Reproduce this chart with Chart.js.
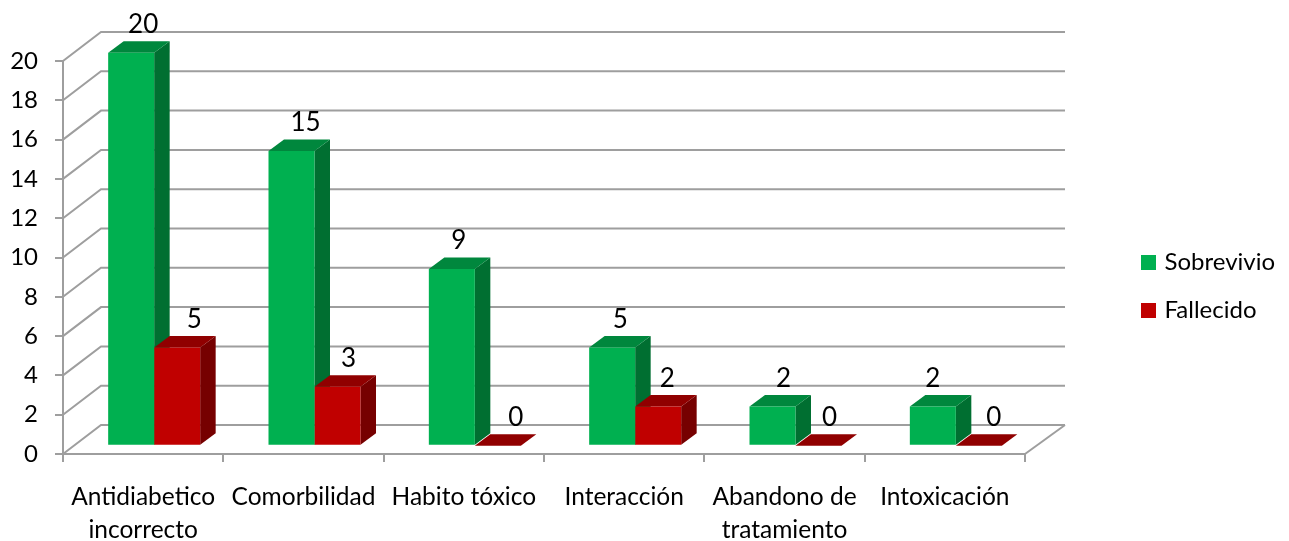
<!DOCTYPE html>
<html>
<head>
<meta charset="utf-8">
<title>Chart</title>
<script src="https://cdn.jsdelivr.net/npm/chart.js@4"></script>
<style>
  html, body { margin: 0; padding: 0; background: #fff; }
  canvas { display: block; }
</style>
</head>
<body>
<canvas id="grafico" width="1289" height="541"></canvas>
<script>
const categorias = [
  ["Antidiabetico", "incorrecto"],
  "Comorbilidad",
  "Habito tóxico",
  "Interacción",
  ["Abandono de", "tratamiento"],
  "Intoxicación"
];
const sobrevivio = [20, 15, 9, 5, 2, 2];
const fallecido = [5, 3, 0, 2, 0, 0];

// Label shifts in px, the original labels were not centred on their bars
const desplazaSobrevivio = [12, 14, 7, 8, 11, 0];
const desplazaFallecido = [17, 11, 18, 9, 11, 15];

const GRIS = "#9e9e9e";
const FUENTE = "Lato";
// Fake 3D: depth of the walls, depth of the bars and how far bars sit from the front edge
const PARED = { x: 38, y: -29 };
const BARRA = { x: 15.5, y: -11.5 };
const SUELO = { x: 11, y: -8.2 };

const caras = [
  { arriba: "#00873d", lado: "#006f31", nudge: desplazaSobrevivio },
  { arriba: "#900000", lado: "#760000", nudge: desplazaFallecido }
];

function poligono(ctx, puntos, color) {
  ctx.fillStyle = color;
  ctx.beginPath();
  puntos.forEach((p, i) => i ? ctx.lineTo(p[0], p[1]) : ctx.moveTo(p[0], p[1]));
  ctx.closePath();
  ctx.fill();
}

const plugin3d = {
  id: "plugin3d",
  afterUpdate(chart) {
    // legend sits in the free space right of the plot
    const legend = chart.legend;
    legend.left = 1120.5;
    legend.right = 1289;
    legend.top = 226.5;
    legend.bottom = 541;
  },
  beforeDatasetsDraw(chart) {
    const { ctx, chartArea, scales } = chart;
    ctx.save();
    ctx.strokeStyle = GRIS;
    ctx.lineWidth = 2;
    const derecha = chartArea.right + PARED.x + 2;
    scales.y.ticks.forEach((t) => {
      const y = scales.y.getPixelForValue(t.value);
      ctx.beginPath();
      ctx.moveTo(chartArea.left, y);
      ctx.lineTo(chartArea.left + PARED.x, y + PARED.y);
      ctx.lineTo(derecha, y + PARED.y);
      ctx.stroke();
    });
    // right edge of the floor
    ctx.beginPath();
    ctx.moveTo(chartArea.right, chartArea.bottom);
    ctx.lineTo(derecha, chartArea.bottom + PARED.y);
    ctx.stroke();
    ctx.restore();

    // sides and tops, green first so the red ones cover it
    ctx.save();
    ctx.translate(SUELO.x, SUELO.y);
    caras.forEach((cara, i) => {
      chart.getDatasetMeta(i).data.forEach((barra) => {
        const l = barra.x - barra.width / 2;
        const r = barra.x + barra.width / 2;
        poligono(ctx, [[r, barra.y], [r + BARRA.x, barra.y + BARRA.y], [r + BARRA.x, barra.base + BARRA.y], [r, barra.base]], cara.lado);
        poligono(ctx, [[l, barra.y], [r, barra.y], [r + BARRA.x, barra.y + BARRA.y], [l + BARRA.x, barra.y + BARRA.y]], cara.arriba);
      });
    });
    ctx.restore();
  },
  beforeDatasetDraw(chart) {
    chart.ctx.save();
    chart.ctx.translate(SUELO.x, SUELO.y);
  },
  afterDatasetDraw(chart) {
    chart.ctx.restore();
  },
  afterDatasetsDraw(chart) {
    const { ctx } = chart;
    ctx.save();
    ctx.font = "26px " + FUENTE;
    ctx.fillStyle = "#000";
    ctx.textAlign = "center";
    ctx.textBaseline = "alphabetic";
    chart.data.datasets.forEach((ds, i) => {
      chart.getDatasetMeta(i).data.forEach((barra, j) => {
        ctx.fillText(ds.data[j], barra.x + SUELO.x + caras[i].nudge[j], barra.y + SUELO.y - 20);
      });
    });
    ctx.restore();
  }
};

new Chart(document.getElementById("grafico").getContext("2d"), {
  type: "bar",
  data: {
    labels: categorias,
    datasets: [
      { label: "Sobrevivio", data: sobrevivio, backgroundColor: "#00b050", clip: false },
      { label: "Fallecido", data: fallecido, backgroundColor: "#c00000", clip: false }
    ]
  },
  options: {
    responsive: false,
    animation: false,
    layout: { padding: { top: 61, right: 164, left: 0, bottom: 0 } },
    datasets: { bar: { categoryPercentage: 92 / 160.33, barPercentage: 1 } },
    scales: {
      x: {
        afterFit(scale) { scale.height = 87; },
        grid: { drawOnChartArea: false, color: GRIS, lineWidth: 2, tickLength: 8 },
        border: { color: GRIS, width: 2 },
        ticks: { color: "#000", font: { family: FUENTE, size: 24.5, lineHeight: 1.36 }, padding: 18, maxRotation: 0, autoSkip: false }
      },
      y: {
        min: 0,
        max: 20,
        afterFit(scale) { scale.width = 63; },
        grid: { drawOnChartArea: false, color: GRIS, lineWidth: 2, tickLength: 8 },
        border: { color: GRIS, width: 2 },
        ticks: { stepSize: 2, color: "#000", font: { family: FUENTE, size: 24 }, padding: 17 }
      }
    },
    plugins: {
      tooltip: { enabled: false },
      legend: {
        position: "right",
        align: "start",
        maxWidth: 100,
        labels: {
          color: "#000",
          // small box with a thick border, Chart.js fixes the gap to the text from the font size
          boxWidth: 8,
          boxHeight: 8,
          padding: 24,
          font: { family: FUENTE, size: 24 },
          generateLabels(chart) {
            return chart.data.datasets.map((ds, i) => ({
              text: ds.label,
              fillStyle: ds.backgroundColor,
              strokeStyle: ds.backgroundColor,
              lineWidth: 7,
              datasetIndex: i
            }));
          }
        }
      }
    }
  },
  plugins: [plugin3d]
});
</script>
</body>
</html>
